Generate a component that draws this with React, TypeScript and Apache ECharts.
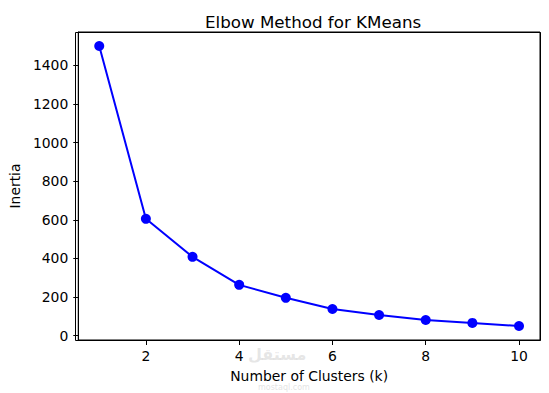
import React, { useEffect, useRef } from "react";
import * as echarts from "echarts";

const clusters = [1, 2, 3, 4, 5, 6, 7, 8, 9, 10];
const inertia = [1500, 605, 408, 263, 196, 138, 107, 81, 66, 50];
const xTicks = [2, 4, 6, 8, 10];
const yTicks = [0, 200, 400, 600, 800, 1000, 1200, 1400];

const FONT = "DejaVu Sans";
const X_MIN = 0.55;
const X_MAX = 10.45;
const Y_MIN = -22.5;
const Y_MAX = 1572.5;

const GRID = { left: 75, right: 9, top: 32, bottom: 53 };
const W = 549;
const H = 393;

export default function App() {
  const ref = useRef<HTMLDivElement>(null);
  useEffect(() => {
    if (!ref.current) return;
    const chart = echarts.init(ref.current, undefined, { renderer: "svg" });
    chart.setOption({
      animation: false,
      backgroundColor: "#ffffff",
      title: {
        text: "Elbow Method for KMeans",
        left: 200,
        top: 8,
        textStyle: { fontFamily: FONT, fontSize: 16.7, fontWeight: "normal", color: "#000" },
      },
      grid: { ...GRID, show: true, borderColor: "#000000", borderWidth: 1, backgroundColor: "rgba(0,0,0,0)" },
      xAxis: {
        type: "value",
        min: X_MIN,
        max: X_MAX,
        name: "Number of Clusters (k)",
        nameLocation: "middle",
        nameGap: 29,
        nameTextStyle: { fontFamily: FONT, fontSize: 13.9, color: "#000" },
        splitLine: { show: false },
        axisLine: { show: true, onZero: false, lineStyle: { color: "#000", width: 1 } },
        axisTick: { show: true, length: 5, lineStyle: { color: "#000" }, customValues: xTicks },
        axisLabel: {
          fontFamily: FONT,
          fontSize: 13.9,
          color: "#000",
          margin: 9,
          customValues: xTicks,
          formatter: (v: number) => String(v),
        },
      },
      yAxis: {
        type: "value",
        min: Y_MIN,
        max: Y_MAX,
        name: "Inertia",
        nameLocation: "middle",
        nameGap: 50,
        nameRotate: 90,
        nameTextStyle: { fontFamily: FONT, fontSize: 13.9, color: "#000" },
        splitLine: { show: false },
        axisLine: { show: true, onZero: false, lineStyle: { color: "#000", width: 1 } },
        axisTick: { show: true, length: 5, lineStyle: { color: "#000" }, customValues: yTicks },
        axisLabel: {
          fontFamily: FONT,
          fontSize: 13.9,
          color: "#000",
          margin: 10,
          customValues: yTicks,
          formatter: (v: number) => String(v),
        },
      },
      series: [
        {
          type: "line",
          data: clusters.map((k, i) => [k, inertia[i]]),
          color: "#0000ff",
          lineStyle: { color: "#0000ff", width: 2 },
          symbol: "circle",
          symbolSize: 10,
          showSymbol: true,
          itemStyle: { color: "#0000ff" },
          z: 3,
        },
      ],
      graphic: [
        {
          type: "rect",
          left: GRID.left,
          top: GRID.top,
          z: 100,
          shape: { width: W - GRID.left - GRID.right, height: H - GRID.top - GRID.bottom },
          style: { fill: "rgba(0,0,0,0)", stroke: "#000000", lineWidth: 1 },
        },
        {
          type: "text",
          left: 248,
          top: 346,
          z: -1,
          style: {
            text: "مستقل",
            fontFamily: "DejaVu Sans",
            fontSize: 16,
            fontWeight: "bold",
            fill: "rgba(200,200,200,0.45)",
          },
        },
        {
          type: "text",
          left: 258,
          top: 383,
          z: -1,
          style: {
            text: "mostaql.com",
            fontFamily: FONT,
            fontSize: 8,
            fill: "rgba(200,200,200,0.5)",
          },
        },
      ],
    });
    return () => chart.dispose();
  }, []);
  return (
    <div
      ref={ref}
      style={{ position: "absolute", left: 0, top: 0, width: W, height: H }}
    />
  );
}
